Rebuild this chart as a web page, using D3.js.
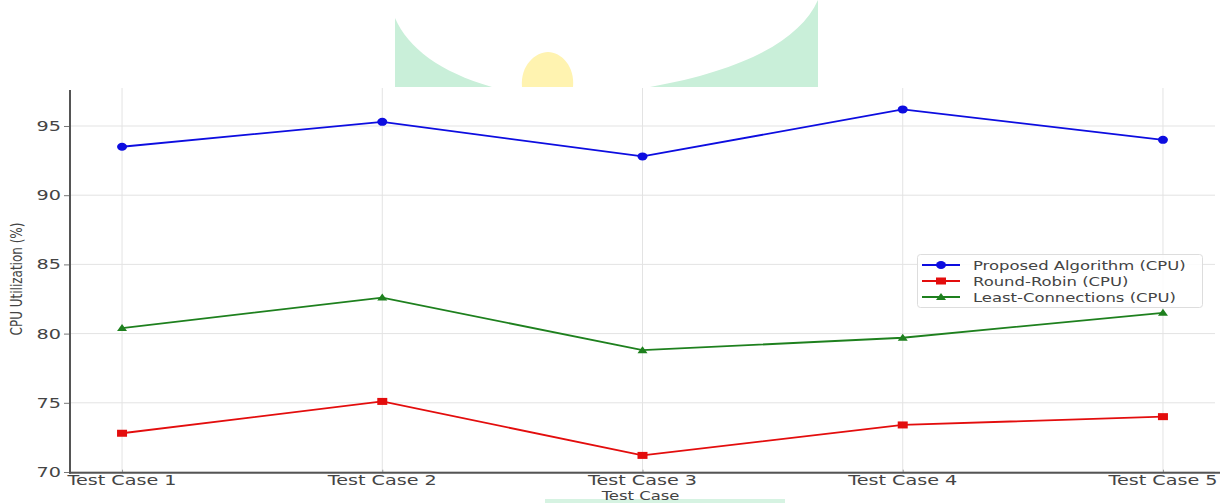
<!DOCTYPE html>
<html>
<head>
<meta charset="utf-8">
<script src="https://cdn.jsdelivr.net/npm/d3@7"></script>
<style>
  html, body { margin: 0; padding: 0; background: #ffffff; }
  svg { display: block; }
  text { font-family: "DejaVu Sans", sans-serif; fill: #444; }
</style>
</head>
<body>
<svg id="chart" width="1226" height="503"></svg>
<script>
// ---- data ----
const categories = ["Test Case 1", "Test Case 2", "Test Case 3", "Test Case 4", "Test Case 5"];
const proposedCPU = [93.5, 95.3, 92.8, 96.2, 94.0];
const roundRobinCPU = [72.8, 75.1, 71.2, 73.4, 74.0];
const leastConnCPU = [80.4, 82.6, 78.8, 79.7, 81.5];
const seriesNames = ["Proposed Algorithm (CPU)", "Round-Robin (CPU)", "Least-Connections (CPU)"];
const yTicks = [70, 75, 80, 85, 90, 95];

const series = [
  { name: seriesNames[0], values: proposedCPU, color: "#0d0de0", marker: "circle" },
  { name: seriesNames[1], values: roundRobinCPU, color: "#e30d0d", marker: "square" },
  { name: seriesNames[2], values: leastConnCPU, color: "#1e801e", marker: "triangle" }
];

// ---- layout ----
const W = 1226, H = 503;
const sx = 1.37; // horizontal stretch of the whole figure
const plot = { left: 70, right: 1215, top: 90, bottom: 472.7 };

const svg = d3.select("#chart");

// ---- background emblem above the figure ----
const emblem = svg.append("g");
emblem.append("path")
  .attr("d", "M395,18 C408,48 440,72 492,87 L395,87 Z")
  .attr("fill", "#c9efd9");
emblem.append("path")
  .attr("d", "M818,0 C800,40 745,70 650,87 L818,87 Z")
  .attr("fill", "#c9efd9");
emblem.append("path")
  .attr("d", "M522,87 C520,66 535,52 548,52 C561,52 575,66 573,87 Z")
  .attr("fill", "#fff3b0");
emblem.append("rect")
  .attr("x", 545).attr("y", 499).attr("width", 240).attr("height", 4)
  .attr("fill", "#d6f3e2");

// white figure area
svg.append("rect")
  .attr("x", 0).attr("y", 87).attr("width", W).attr("height", 412)
  .attr("fill", "#ffffff");

// ---- scales ----
// matplotlib-like 5% margins: category index -0.2 .. 4.2
const xi = d3.scaleLinear().domain([-0.2, categories.length - 1 + 0.2]).range([plot.left, plot.right]);
const xPos = c => xi(categories.indexOf(c));
const y = d3.scaleLinear().domain([69.95, 97.6]).range([plot.bottom, plot.top]);

// stretched text helper
function stext(g, tx, ty, str, size, anchor, rot) {
  return g.append("text")
    .attr("transform", `translate(${tx},${ty}) scale(${sx},1)` + (rot ? ` rotate(${rot})` : ""))
    .attr("font-size", size)
    .attr("text-anchor", anchor)
    .text(str);
}

// ---- grid ----
const grid = svg.append("g");
grid.selectAll("line.v").data(categories).join("line")
  .attr("x1", d => xPos(d)).attr("x2", d => xPos(d))
  .attr("y1", plot.top - 2).attr("y2", plot.bottom)
  .attr("stroke", "#e3e3e3").attr("stroke-width", 1);
grid.selectAll("line.h").data(yTicks).join("line")
  .attr("x1", plot.left).attr("x2", plot.right)
  .attr("y1", d => y(d)).attr("y2", d => y(d))
  .attr("stroke", "#e3e3e3").attr("stroke-width", 1);

// ---- axes ----
const axes = svg.append("g");
const yAxis = axes.append("g")
  .attr("transform", `translate(${plot.left},0)`)
  .call(d3.axisLeft(y).tickValues(yTicks).tickSize(6).tickFormat(""));
yAxis.select(".domain").remove();
yAxis.selectAll(".tick line").attr("stroke", "#777");

const xAxis = axes.append("g")
  .attr("transform", `translate(0,${plot.bottom})`)
  .call(d3.axisBottom(xi).tickValues(d3.range(categories.length)).tickSize(-3).tickFormat(""));
xAxis.select(".domain").remove();
xAxis.selectAll(".tick line").attr("stroke", "#999");

// spines
axes.append("line")
  .attr("x1", plot.left).attr("x2", plot.left)
  .attr("y1", plot.top).attr("y2", plot.bottom + 1)
  .attr("stroke", "#555").attr("stroke-width", 2);
axes.append("line")
  .attr("x1", plot.left - 1).attr("x2", plot.right + 5)
  .attr("y1", plot.bottom).attr("y2", plot.bottom)
  .attr("stroke", "#555").attr("stroke-width", 2);

// tick labels
const labels = svg.append("g");
yTicks.forEach(v => stext(labels, 61, y(v) + 5, String(v), 14, "end"));
categories.forEach(c => stext(labels, xPos(c), 484.5, c, 14, "middle"));

// axis titles
stext(labels, (plot.left + plot.right) / 2 - 2, 499.5, "Test Case", 12, "middle");
stext(labels, 22, 279, "CPU Utilization (%)", 12, "middle", -90);

// ---- series ----
const line = d3.line().x((d, i) => xi(i)).y(d => y(d));

function drawMarker(g, kind, cx, cy, color) {
  if (kind === "circle") {
    g.append("ellipse").attr("cx", cx).attr("cy", cy).attr("rx", 5).attr("ry", 4).attr("fill", color);
  } else if (kind === "square") {
    g.append("rect").attr("x", cx - 5).attr("y", cy - 3.5).attr("width", 10).attr("height", 7).attr("fill", color);
  } else {
    g.append("path")
      .attr("d", `M${cx},${cy - 4} L${cx + 5},${cy + 3} L${cx - 5},${cy + 3} Z`)
      .attr("fill", color);
  }
}

const marks = svg.append("g");
series.forEach(s => {
  marks.append("path")
    .datum(s.values)
    .attr("d", line)
    .attr("fill", "none")
    .attr("stroke", s.color)
    .attr("stroke-width", 1.8);
  s.values.forEach((v, i) => drawMarker(marks, s.marker, xi(i), y(v), s.color));
});

// ---- legend ----
const lg = svg.append("g");
lg.append("rect")
  .attr("x", 917.5).attr("y", 254.5).attr("width", 285).attr("height", 53)
  .attr("rx", 3)
  .attr("fill", "#ffffff").attr("fill-opacity", 0.85)
  .attr("stroke", "#dddddd");
series.forEach((s, i) => {
  const ry = 265 + i * 16;
  lg.append("line")
    .attr("x1", 922).attr("x2", 960).attr("y1", ry).attr("y2", ry)
    .attr("stroke", s.color).attr("stroke-width", 1.8);
  drawMarker(lg, s.marker, 941, ry, s.color);
  stext(lg, 973, ry + 4.5, s.name, 12, "start");
});
</script>
</body>
</html>
